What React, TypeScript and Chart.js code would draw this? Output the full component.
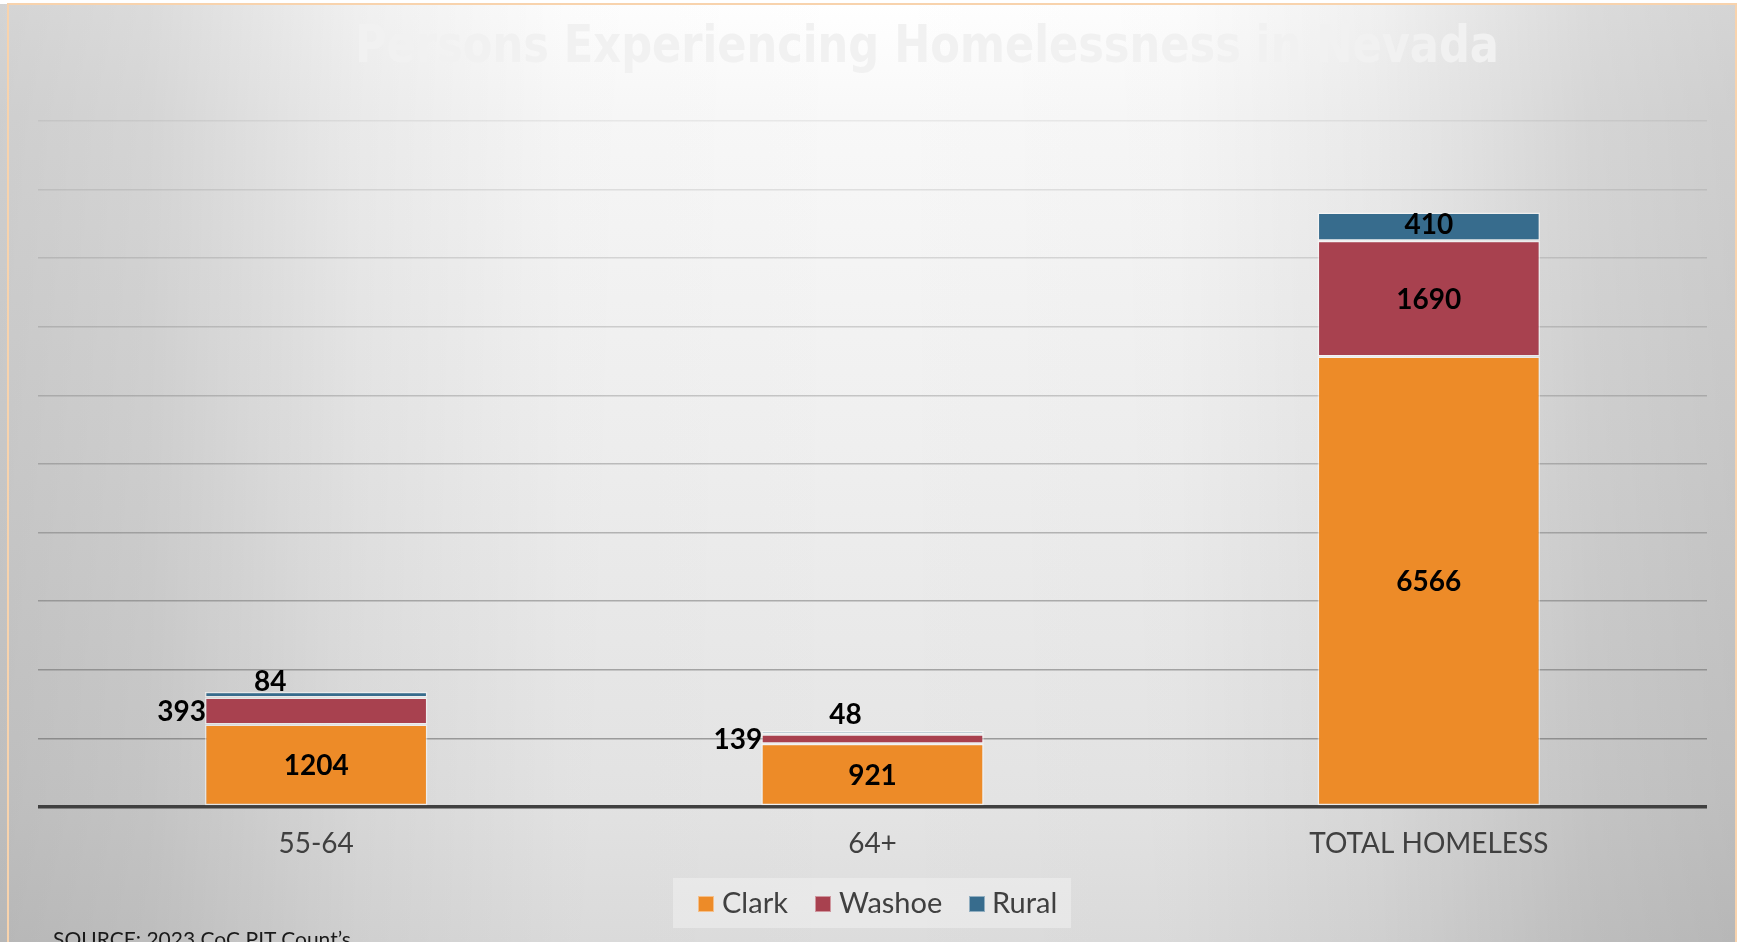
import React, { useEffect, useRef } from "react";
import { Chart, registerables } from "chart.js";

Chart.register(...registerables);

// ---------- data ----------
const categories = ["55-64", "64+", "TOTAL HOMELESS"];
const seriesNames = ["Clark", "Washoe", "Rural"];
const clarkValues = [1204, 921, 6566];
const washoeValues = [393, 139, 1690];
const ruralValues = [84, 48, 410];
const yMax = 10000;
const yStep = 1000;
const titleText = "Persons Experiencing Homelessness in Nevada";
const sourceText = "SOURCE: 2023 CoC PIT Count\u2019s";

// ---------- styles ----------
const seriesColors = ["#ED8B28", "#A8414F", "#376C8D"];
const W = 1741;
const H = 942;

// label placement: "in" = centred in segment, "left" = left of bar, "above" = above bar
const placement = [
  ["in", "in", "in"],
  ["left", "left", "in"],
  ["above", "above", "in"],
];
const aboveOffsets: Record<number, [number, number]> = { 0: [-46, 10], 1: [-27, 16] };

const labelPlugin = {
  id: "segLabels",
  afterDatasetsDraw(chart: any) {
    const ctx = chart.ctx;
    ctx.save();
    ctx.font = "bold 28px Lato";
    ctx.fillStyle = "#000000";
    chart.data.datasets.forEach((ds: any, i: number) => {
      const meta = chart.getDatasetMeta(i);
      meta.data.forEach((el: any, j: number) => {
        const { x, y, base, width } = el.getProps(["x", "y", "base", "width"], true);
        const text = String(ds.data[j]);
        const mode = placement[i][j];
        ctx.textBaseline = "middle";
        if (mode === "left") {
          ctx.textAlign = "right";
          ctx.fillText(text, x - width / 2 + 1, (y + base) / 2 + 1);
        } else if (mode === "above") {
          const [dx, dy] = aboveOffsets[j];
          ctx.textAlign = "center";
          ctx.fillText(text, x + dx, y - dy);
        } else {
          ctx.textAlign = "center";
          const shift = i === 2 ? -2 : 1;
          ctx.fillText(text, x, (y + base) / 2 + shift);
        }
      });
    });
    ctx.restore();
  },
};

export default function App() {
  const canvasRef = useRef<HTMLCanvasElement | null>(null);

  useEffect(() => {
    let chart: Chart | null = null;
    let cancelled = false;
    const fontsReady = (document as any).fonts
      ? Promise.all([
          (document as any).fonts.load("bold 28px Lato"),
          (document as any).fonts.load("28px Lato"),
        ]).catch(() => null)
      : Promise.resolve(null);
    fontsReady.then(() => {
      if (cancelled || !canvasRef.current) return;
      const values = [clarkValues, washoeValues, ruralValues];
      chart = new Chart(canvasRef.current, {
        type: "bar",
        data: {
          labels: categories,
          datasets: seriesNames.map((name, i) => ({
            label: name,
            data: values[i],
            backgroundColor: seriesColors[i],
            borderColor: "rgba(255,255,255,0.5)",
            borderWidth: 1.5,
            borderSkipped: false,
            categoryPercentage: 1,
            barPercentage: 0.4,
          })),
        },
        options: {
          responsive: false,
          animation: false,
          devicePixelRatio: 1,
          layout: { padding: { left: 38, right: 34, top: 121, bottom: 75 } },
          plugins: {
            legend: { display: false },
            title: { display: false },
            tooltip: { enabled: false },
          },
          scales: {
            x: {
              stacked: true,
              grid: { display: false, drawTicks: false },
              border: { display: false },
              ticks: {
                color: "#404040",
                font: { family: "Lato", size: 28 },
                padding: 20,
              },
              afterFit: (s: any) => {
                s.height = 60;
              },
            },
            y: {
              stacked: true,
              min: 0,
              max: yMax,
              ticks: { display: false, stepSize: yStep },
              border: { display: false },
              grid: {
                drawTicks: false,
                color: (c: any) => {
                  const v = c.tick ? c.tick.value : 0;
                  if (v === 0) return "#404040";
                  const t = v / yMax;
                  const a = 0.1 + 0.5 * (1 - t);
                  return `rgba(95,95,95,${a.toFixed(3)})`;
                },
                lineWidth: (c: any) => (c.tick && c.tick.value === 0 ? 3.5 : 1.6),
              },
              afterFit: (s: any) => {
                s.width = 0;
              },
            },
          },
        },
        plugins: [labelPlugin],
      });
    });
    return () => {
      cancelled = true;
      if (chart) chart.destroy();
    };
  }, []);

  const legendItems = [
    { x: 698, tx: 722 },
    { x: 815, tx: 839 },
    { x: 969, tx: 992 },
  ];

  return (
    <div
      style={{
        position: "fixed",
        left: 0,
        top: 0,
        width: W,
        height: H,
        overflow: "hidden",
        background: "#ffffff",
      }}
    >
      <div
        style={{
          position: "absolute",
          left: 0,
          top: 4,
          width: 1737,
          height: H - 4,
          background:
            "linear-gradient(to right, rgba(0,0,0,0.17) 0%, rgba(0,0,0,0.14) 8.6%, rgba(0,0,0,0.06) 20.7%, rgba(0,0,0,0.01) 32.8%, rgba(0,0,0,0) 50%, rgba(0,0,0,0.01) 67.4%, rgba(0,0,0,0.06) 79.4%, rgba(0,0,0,0.14) 91.5%, rgba(0,0,0,0.17) 100%), " +
            "linear-gradient(to bottom, #ffffff 0%, #f8f8f8 12%, #efefef 47%, #e4e4e4 85%, #dcdcdc 100%)",
        }}
      />
      {/* frame */}
      <div style={{ position: "absolute", left: 8, top: 3, width: 1729, height: 2, background: "#f8d3ad" }} />
      <div style={{ position: "absolute", left: 7, top: 3, width: 2, height: H, background: "#f8d3ad" }} />
      <div style={{ position: "absolute", left: 1735, top: 3, width: 2, height: H, background: "#f8d3ad" }} />

      <div
        style={{
          position: "absolute",
          left: 355,
          top: 19,
          whiteSpace: "nowrap",
          fontFamily: "'DejaVu Sans Condensed', 'DejaVu Sans', sans-serif",
          fontWeight: 700,
          fontSize: 51,
          lineHeight: 1,
          color: "#f1f1f1",
          transformOrigin: "0 0",
          transform: "scaleX(0.94)",
        }}
      >
        {titleText}
      </div>

      <canvas
        ref={canvasRef}
        width={W}
        height={H}
        style={{ position: "absolute", left: 0, top: 0, width: W, height: H }}
      />

      <div
        style={{
          position: "absolute",
          left: 673,
          top: 878,
          width: 398,
          height: 50,
          background: "rgba(240,240,240,0.55)",
        }}
      />
      {seriesNames.map((name, i) => (
        <React.Fragment key={name}>
          <div
            style={{
              position: "absolute",
              left: legendItems[i].x,
              top: 896,
              width: 16,
              height: 16,
              background: seriesColors[i],
              boxSizing: "border-box",
              border: "1px solid rgba(255,255,255,0.45)",
            }}
          />
          <div
            style={{
              position: "absolute",
              left: legendItems[i].tx,
              top: 887,
              fontFamily: "Lato, sans-serif",
              fontSize: 29,
              lineHeight: 1,
              color: "#404040",
              whiteSpace: "nowrap",
            }}
          >
            {name}
          </div>
        </React.Fragment>
      ))}

      <div
        style={{
          position: "absolute",
          left: 53,
          top: 928,
          fontFamily: "Lato, sans-serif",
          fontSize: 21,
          lineHeight: 1,
          color: "#1a1a1a",
          whiteSpace: "nowrap",
        }}
      >
        {sourceText}
      </div>
    </div>
  );
}
